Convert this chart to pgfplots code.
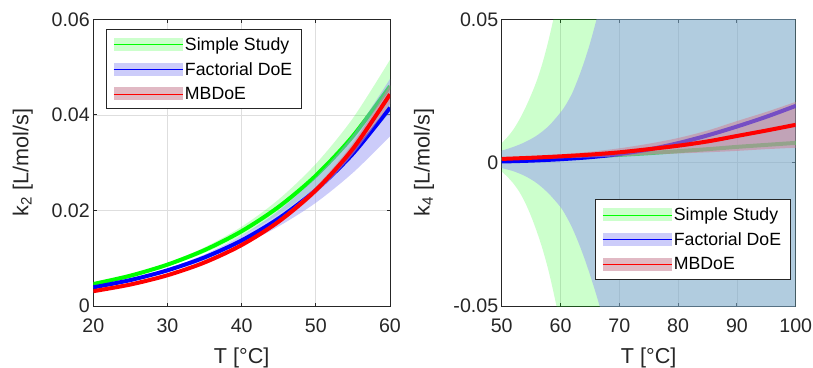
\documentclass[border=0pt]{standalone}
\usepackage{fontspec}
\setmainfont{Liberation Sans}
\usepackage{pgfplots}
\pgfplotsset{compat=1.18}
\usepgfplotslibrary{fillbetween}
\tikzset{fill between/on layer=main}
\definecolor{axc}{RGB}{38,38,38}
\definecolor{gline}{RGB}{0,255,0}
\definecolor{bline}{RGB}{0,0,255}
\definecolor{rline}{RGB}{255,0,0}
\definecolor{gfill}{RGB}{0,255,0}
\definecolor{bfill}{RGB}{149,149,245}
\definecolor{rfill}{RGB}{205,135,155}
\definecolor{gridc}{RGB}{222,222,222}
\pgfplotsset{
  myaxis/.style={
    scale only axis, height=286.7pt,
    axis line style={axc, line width=0.9pt},
    every tick/.style={axc, line width=0.9pt},
    major tick length=3.5pt,
    tick align=inside,
    scaled y ticks=false, scaled x ticks=false,
    grid=major, major grid style={gridc, line width=0.7pt},
    tick label style={font=\fontsize{19.6}{22}\selectfont, text=axc},
    xticklabel style={yshift=-9pt},
    /pgf/number format/assume math mode=true,
    label style={font=\fontsize{21.6}{24}\selectfont, text=axc},
    xlabel={T [°C]},
    xlabel style={at={(axis description cs:0.5,0)}, anchor=center, yshift=-52pt},
    legend cell align=left,
    legend style={draw=axc, line width=0.8pt, fill=white, text=black,
      font=\fontsize{17.7}{20}\selectfont, row sep=6.5pt,
      inner xsep=7pt, inner ysep=6pt},
  },
  edge/.style={draw=none, smooth, forget plot},
  gleg/.style={legend image code/.code={\path[draw=none, fill=gfill, fill opacity=0.2] (0pt,-6.5pt) rectangle (69pt,6.5pt); \draw[gline, line width=0.6pt] (0pt,0pt) -- (69pt,0pt);}},
  bleg/.style={legend image code/.code={\path[draw=none, fill=bfill, fill opacity=0.48] (0pt,-6.5pt) rectangle (69pt,6.5pt); \draw[bline, line width=0.6pt] (0pt,0pt) -- (69pt,0pt);}},
  rleg/.style={legend image code/.code={\path[draw=none, fill=rfill, fill opacity=0.58] (0pt,-6.5pt) rectangle (69pt,6.5pt); \draw[rline, line width=0.6pt] (0pt,0pt) -- (69pt,0pt);}},
}
\begin{document}
\begin{tikzpicture}
% ---------------- left panel ----------------
\begin{axis}[myaxis, width=296.7pt,
  xmin=20, xmax=60, ymin=0, ymax=0.06,
  xtick={20,30,40,50,60},
  ytick={0,0.02,0.04,0.06}, yticklabels={0,0.02,0.04,0.06},
  ylabel={k\textsubscript{2} [L/mol/s]},
  ylabel style={at={(axis description cs:-0.238,0.5)}, anchor=center},
  legend style={at={(axis description cs:0.0428,0.966)}, anchor=north west},
]
\addlegendimage{gleg}\addlegendentry{Simple Study}
\addlegendimage{bleg}\addlegendentry{Factorial DoE}
\addlegendimage{rleg}\addlegendentry{MBDoE}
% Simple Study
\addplot[edge, name path=gu] coordinates {(20,0.004830) (25,0.006631) (30,0.009049) (35,0.012285) (40,0.016595) (45,0.022318) (50,0.029742) (55,0.039303) (60,0.051520)};
\addplot[edge, name path=gl] coordinates {(20,0.004370) (25,0.006060) (30,0.008269) (35,0.011115) (40,0.014717) (45,0.019204) (50,0.024830) (55,0.031833) (60,0.040480)};
\addplot[gfill, fill opacity=0.2, draw=none, forget plot] fill between[of=gu and gl];
\addplot[gline, line width=4pt, smooth, forget plot] coordinates {(20,0.004600) (25,0.006345) (30,0.008659) (35,0.011700) (40,0.015656) (45,0.020761) (50,0.027286) (55,0.035568) (60,0.046000)};
% Factorial DoE
\addplot[edge, name path=bu] coordinates {(20,0.004095) (25,0.005670) (30,0.007841) (35,0.010783) (40,0.014750) (45,0.019983) (50,0.026946) (55,0.035856) (60,0.047522)};
\addplot[edge, name path=bl] coordinates {(20,0.003705) (25,0.005182) (30,0.007095) (35,0.009563) (40,0.012692) (45,0.016683) (50,0.021606) (55,0.027888) (60,0.035486)};
\addplot[bfill, fill opacity=0.48, draw=none, forget plot] fill between[of=bu and bl];
\addplot[bline, line width=4pt, smooth, forget plot] coordinates {(20,0.003900) (25,0.005426) (30,0.007468) (35,0.010173) (40,0.013721) (45,0.018333) (50,0.024276) (55,0.031872) (60,0.041504)};
% MBDoE
\addplot[edge, name path=ru] coordinates {(20,0.003193) (25,0.004607) (30,0.006598) (35,0.009341) (40,0.013078) (45,0.018170) (50,0.024966) (55,0.034071) (60,0.046296)};
\addplot[edge, name path=rl] coordinates {(20,0.003007) (25,0.004383) (30,0.006276) (35,0.008885) (40,0.012440) (45,0.017180) (50,0.023512) (55,0.031767) (60,0.042308)};
\addplot[rfill, fill opacity=0.58, draw=none, forget plot] fill between[of=ru and rl];
\addplot[rline, line width=4pt, smooth, forget plot] coordinates {(20,0.003100) (25,0.004495) (30,0.006437) (35,0.009113) (40,0.012759) (45,0.017675) (50,0.024239) (55,0.032919) (60,0.044302)};
\end{axis}
% ---------------- right panel ----------------
\begin{axis}[myaxis, width=294pt, at={(408.4pt,0pt)},
  xmin=50, xmax=100, ymin=-0.05, ymax=0.05,
  xtick={50,60,70,80,90,100},
  ytick={-0.05,0,0.05}, yticklabels={-0.05,0,0.05},
  ylabel={k\textsubscript{4} [L/mol/s]},
  ylabel style={at={(axis description cs:-0.264,0.5)}, anchor=center},
  legend style={at={(axis description cs:0.317,0.372)}, anchor=north west},
]
\addlegendimage{gleg}\addlegendentry{Simple Study}
\addlegendimage{bleg}\addlegendentry{Factorial DoE}
\addlegendimage{rleg}\addlegendentry{MBDoE}
% Simple Study
\addplot[edge, name path=gu] coordinates {(50,0.0068) (51,0.0090) (52,0.0116) (53,0.0150) (54,0.0190) (55,0.0236) (56,0.0288) (57,0.0352) (58,0.0430) (59,0.0520) (60,0.0620) (62,0.0850) (65,0.1300) (70,0.2000) (100,0.2000)};
\addplot[edge, name path=gl] coordinates {(50,-0.0031) (51,-0.0050) (52,-0.0073) (53,-0.0102) (54,-0.0140) (55,-0.0187) (56,-0.0242) (57,-0.0305) (58,-0.0380) (59,-0.0470) (60,-0.0570) (62,-0.0800) (65,-0.1250) (70,-0.2000) (100,-0.2000)};
\addplot[gfill, fill opacity=0.2, draw=none, forget plot] fill between[of=gu and gl];
\addplot[gline, line width=4pt, smooth, forget plot] coordinates {(50,0.0009) (55,0.0013) (60,0.0017) (65,0.0022) (70,0.0027) (75,0.0033) (80,0.0040) (85,0.0047) (90,0.0055) (95,0.0062) (100,0.0069)};
% Factorial DoE
\addplot[edge, name path=bu] coordinates {(50,0.0042) (52,0.0055) (54,0.0072) (56,0.0095) (58,0.0128) (60,0.0175) (61,0.0205) (62,0.0243) (63,0.0293) (64,0.0350) (65,0.0415) (66,0.0490) (67,0.0575) (68,0.0670) (70,0.0900) (75,0.2000) (100,0.2000)};
\addplot[edge, name path=bl] coordinates {(50,-0.0019) (52,-0.0030) (54,-0.0047) (56,-0.0072) (58,-0.0108) (60,-0.0155) (61,-0.0188) (62,-0.0228) (63,-0.0276) (64,-0.0330) (65,-0.0390) (66,-0.0455) (67,-0.0525) (68,-0.0600) (70,-0.0780) (75,-0.1500) (100,-0.2000)};
\addplot[bfill, fill opacity=0.48, draw=none, forget plot] fill between[of=bu and bl];
\addplot[bline, line width=4pt, smooth, forget plot] coordinates {(50,0.0004) (55,0.0007) (60,0.0012) (65,0.0019) (70,0.0030) (75,0.0046) (80,0.0068) (85,0.0095) (90,0.0126) (95,0.0160) (100,0.0198)};
% MBDoE
\addplot[edge, name path=ru] coordinates {(50,0.0017) (55,0.0022) (60,0.0029) (65,0.0038) (70,0.0050) (75,0.0066) (80,0.0086) (85,0.0112) (90,0.0145) (95,0.0177) (100,0.0212)};
\addplot[edge, name path=rl] coordinates {(50,0.0009) (55,0.0012) (60,0.0015) (65,0.0018) (70,0.0022) (75,0.0028) (80,0.0032) (85,0.0036) (90,0.0041) (95,0.0047) (100,0.0052)};
\addplot[rfill, fill opacity=0.58, draw=none, forget plot] fill between[of=ru and rl];
\addplot[rline, line width=4pt, smooth, forget plot] coordinates {(50,0.0013) (55,0.0017) (60,0.0022) (65,0.0028) (70,0.0036) (75,0.0047) (80,0.0059) (85,0.0074) (90,0.0093) (95,0.0112) (100,0.0132)};
\end{axis}
\pgfresetboundingbox
\path[use as bounding box] (-93.3pt,-61pt) rectangle (719.7pt,306pt);
\end{tikzpicture}
\end{document}
